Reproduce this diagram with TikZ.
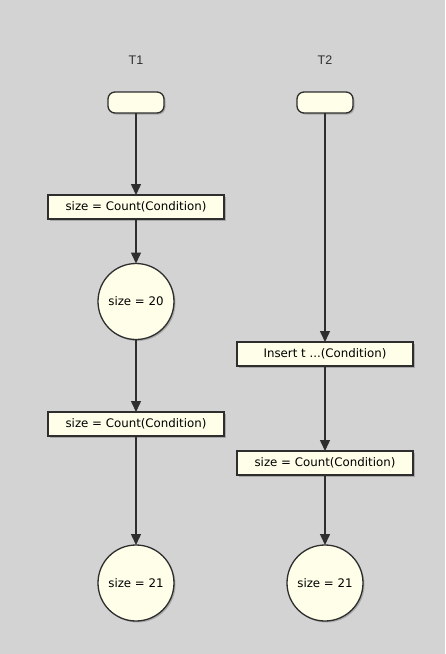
\documentclass[tikz,border=0pt]{standalone}
\usepackage{fontspec}
\setmainfont{DejaVu Sans}
\newfontfamily\lblfont{Liberation Sans}
\usetikzlibrary{arrows.meta,shadows}
\definecolor{bg}{HTML}{D3D3D3}
\definecolor{cream}{HTML}{FEFEE9}
\definecolor{ink}{HTML}{2E2E2E}
\tikzset{
  every node/.style={inner sep=0pt, outer sep=0pt},
  actbox/.style={draw=ink, fill=cream, line width=1.3pt, minimum width=176pt, minimum height=24pt, font=\fontsize{11.8}{13}\selectfont, drop shadow={shadow xshift=1.5pt, shadow yshift=-1.5pt, fill=black, opacity=0.2}},
  startbox/.style={draw=ink, fill=cream, line width=1.3pt, rounded corners=7pt, minimum width=56pt, minimum height=21pt, drop shadow={shadow xshift=1.5pt, shadow yshift=-1.5pt, fill=black, opacity=0.2}},
  statecirc/.style={draw=ink, fill=cream, line width=1.3pt, circle, minimum size=76pt, font=\fontsize{11.8}{13}\selectfont, drop shadow={shadow xshift=1.5pt, shadow yshift=-1.5pt, fill=black, opacity=0.2}},
  lane/.style={font=\lblfont\fontsize{12.5}{14}\selectfont, text=ink},
  flow/.style={draw=ink, line width=1.5pt, -{Triangle[length=11pt, width=10pt]}}
}
\begin{document}
\begin{tikzpicture}[x=1pt, y=-1pt]
\fill[bg] (0,0) rectangle (445,654);
\useasboundingbox (0,0) rectangle (445,654);
\node[lane] (t1) at (136,60) {T1};
\node[lane] (t2) at (325,60) {T2};
\node[startbox] (s1) at (136,102.5) {};
\node[startbox] (s2) at (325,102.5) {};
\node[actbox] (a1) at (136,207) {size = Count(Condition)};
\node[statecirc] (c1) at (136,301.5) {size = 20};
\node[actbox] (a2) at (136,424) {size = Count(Condition)};
\node[statecirc] (c2) at (136,583) {size = 21};
\node[actbox] (b1) at (325,354) {Insert t ...(Condition)};
\node[actbox] (b2) at (325,463) {size = Count(Condition)};
\node[statecirc] (d1) at (325,583) {size = 21};
\draw[flow] (s1) -- (a1);
\draw[flow] (a1) -- (c1);
\draw[flow] (c1) -- (a2);
\draw[flow] (a2) -- (c2);
\draw[flow] (s2) -- (b1);
\draw[flow] (b1) -- (b2);
\draw[flow] (b2) -- (d1);
\end{tikzpicture}
\end{document}
